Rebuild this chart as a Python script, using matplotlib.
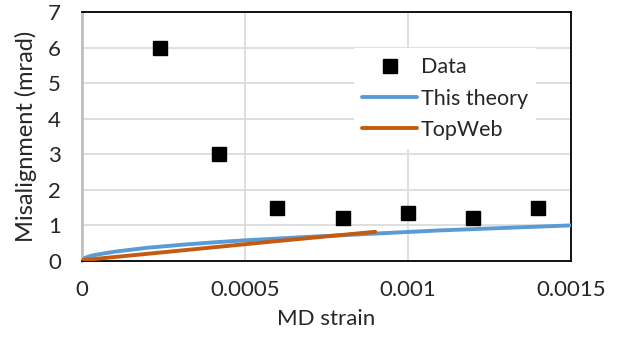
import matplotlib
matplotlib.use("Agg")
import matplotlib.pyplot as plt

# values
data_strain = [0.00024, 0.00042, 0.0006, 0.0008, 0.001, 0.0012, 0.0014]
data_misalign = [6.0, 3.0, 1.5, 1.2, 1.35, 1.2, 1.5]

theory_strain = [0, 0.00001, 0.00003, 0.00006, 0.0001, 0.0002, 0.0003, 0.0004,
                 0.0005, 0.0007, 0.0009, 0.0011, 0.0013, 0.0015]
theory_misalign = [0.0, 0.09, 0.15, 0.2, 0.26, 0.37, 0.45, 0.52,
                   0.58, 0.68, 0.77, 0.86, 0.93, 1.0]

topweb_strain = [0, 0.0003, 0.0006, 0.0009]
topweb_misalign = [0.02, 0.29, 0.56, 0.82]

xticks = [0, 0.0005, 0.001, 0.0015]
xtick_labels = ['0', '0.0005', '0.001', '0.0015']
yticks = [0, 1, 2, 3, 4, 5, 6, 7]

plt.rcParams['font.family'] = ['Lato', 'DejaVu Sans']
txt_color = '#262626'

fig = plt.figure(figsize=(6.21, 3.38), dpi=100)
ax = fig.add_axes([0.132, 0.228, 0.787, 0.736])

ax.plot(theory_strain, theory_misalign, color='#5b9bd5', lw=2.8,
        solid_capstyle='round', label='This theory', zorder=3)
ax.plot(topweb_strain, topweb_misalign, color='#c55a11', lw=2.8,
        solid_capstyle='round', label='TopWeb', zorder=4)
ax.plot(data_strain, data_misalign, 's', color='black', ms=10.5,
        label='Data', zorder=5)

ax.set_xlim(0, 0.0015)
ax.set_ylim(0, 7)
ax.set_xticks(xticks)
ax.set_xticklabels(xtick_labels)
ax.set_yticks(yticks)
ax.tick_params(axis='x', length=0, labelsize=16, pad=14, labelcolor=txt_color)
ax.tick_params(axis='y', length=0, labelsize=16, pad=15, labelcolor=txt_color)
ax.grid(True, color='#d9d9d9', lw=1.2)
ax.set_axisbelow(True)

for s in ['top', 'right', 'bottom']:
    ax.spines[s].set_color('black')
    ax.spines[s].set_linewidth(1.3)
ax.spines['left'].set_color('#bfbfbf')
ax.spines['left'].set_linewidth(2)

ax.set_xlabel('MD strain', fontsize=16, labelpad=6, color=txt_color)
ax.set_ylabel('Misalignment (mrad)', fontsize=17, labelpad=8, color=txt_color)

handles, labels = ax.get_legend_handles_labels()
order = [2, 0, 1]
leg = ax.legend([handles[i] for i in order], [labels[i] for i in order],
                loc='upper left', bbox_to_anchor=(0.556, 0.854),
                borderaxespad=0, fontsize=15.5, frameon=True, framealpha=1,
                facecolor='white', edgecolor='none', fancybox=False,
                labelspacing=0.53, handlelength=2.56, handletextpad=0.15,
                borderpad=0.4)
for t in leg.get_texts():
    t.set_color(txt_color)

fig.savefig('out.png', dpi=100)
